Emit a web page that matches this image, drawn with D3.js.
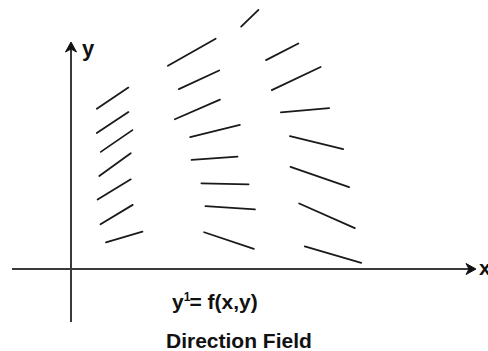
<!DOCTYPE html>
<html><head><meta charset="utf-8">
<script src="https://cdn.jsdelivr.net/npm/d3@7"></script>
<style>
html,body{margin:0;padding:0;background:#fff;}
svg{display:block;}
text{font-family:"Liberation Sans",Arial,Helvetica,sans-serif;font-weight:bold;fill:#111;}
</style></head>
<body>
<svg id="c" width="488" height="351"></svg>
<script>
// direction-field segments: centre (x,y), slope dy/dx, length (data units)
const segX = [1.04,1.04,1.14,1.10,1.08,1.14,1.33,
              4.47,3.02,3.20,3.16,3.60,3.59,3.85,3.98,3.95,
              5.28,5.63,5.85,6.14,6.22,6.40,6.55];
const segY = [4.27,3.66,3.20,2.61,1.99,1.36,0.80,
              6.27,5.42,4.73,3.99,3.45,2.77,2.13,1.53,0.71,
              5.43,4.76,3.97,3.16,2.30,1.33,0.36];
const slopes = [0.674,0.665,0.687,0.723,0.606,0.603,0.292,
                0.965,0.566,0.464,0.436,0.247,0.072,-0.021,-0.067,-0.336,
                0.517,0.473,0.089,-0.244,-0.346,-0.442,-0.291];
const lengths = [0.95,0.95,0.96,0.97,0.97,0.94,0.95,
                 0.60,1.37,1.11,1.23,1.28,1.15,1.18,1.24,1.31,
                 0.91,1.35,1.21,1.37,1.55,1.52,1.47];
const xRange = [-1.475, 10.075];
const yRange = [-1.325, 5.625];
const axisLabels = ["x","y"];
const formulaMain = "y", formulaSup = "1", formulaRest = "= f(x,y)";
const caption = "Direction Field";

const svg = d3.select("#c");
const x = d3.scaleLinear().domain([0,10]).range([71,471]);
const y = d3.scaleLinear().domain([0,6.5]).range([269,9]);

// axes
svg.append("line").attr("x1",x(xRange[0])).attr("x2",x(xRange[1]))
  .attr("y1",y(0)).attr("y2",y(0)).attr("stroke","#3a3a3a").attr("stroke-width",2);
svg.append("line").attr("x1",x(0)).attr("x2",x(0))
  .attr("y1",y(yRange[0])).attr("y2",y(yRange[1])).attr("stroke","#3a3a3a").attr("stroke-width",2);

// arrowheads (chevron shape)
function arrow(tx,ty,angle){
  const p = "M0,0 L-10,-5.5 L-7,0 L-10,5.5 Z";
  svg.append("path").attr("d",p)
    .attr("transform",`translate(${tx},${ty}) rotate(${angle})`)
    .attr("fill","#111").attr("stroke","#111").attr("stroke-width",1).attr("stroke-linejoin","round");
}
arrow(x(xRange[1])+2, y(0), 0);
arrow(x(0), y(yRange[1])-2, -90);

svg.append("text").attr("x",x(xRange[1])+5).attr("y",y(0)+6).attr("font-size",21).text(axisLabels[0]);
svg.append("text").attr("x",x(0)+11).attr("y",y(yRange[1])+12).attr("font-size",22).text(axisLabels[1]);

// segments
const data = segX.map((cx,i)=>({cx, cy:segY[i], m:slopes[i], L:lengths[i]}));
svg.selectAll("line.seg").data(data).enter().append("line").attr("class","seg")
  .each(function(d){
    const h = d.L/2/Math.sqrt(1+d.m*d.m);
    d3.select(this)
      .attr("x1",x(d.cx-h)).attr("y1",y(d.cy-d.m*h))
      .attr("x2",x(d.cx+h)).attr("y2",y(d.cy+d.m*h));
  })
  .attr("stroke","#1a1a1a").attr("stroke-width",1.8).attr("stroke-linecap","round");

// formula
const t = svg.append("text").attr("x",172).attr("y",309).attr("font-size",21);
t.append("tspan").text(formulaMain);
t.append("tspan").attr("font-size",12).attr("dy",-8).text(formulaSup);
t.append("tspan").attr("dy",8).attr("dx",-1).text(formulaRest);

svg.append("text").attr("x",166).attr("y",348).attr("font-size",21).text(caption);
</script>
</body></html>
